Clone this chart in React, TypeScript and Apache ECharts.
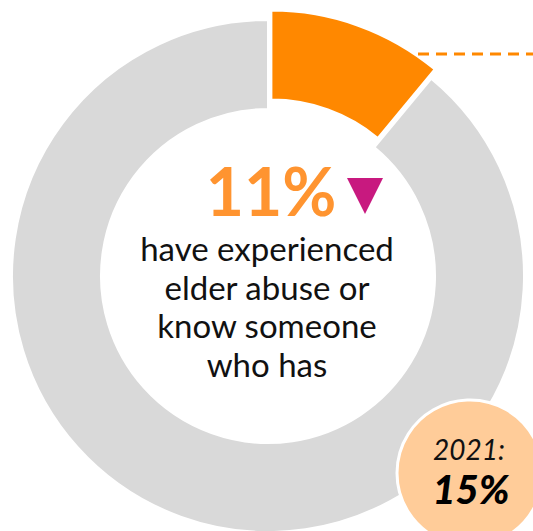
import React, { useEffect, useRef } from "react";
import * as echarts from "echarts";

const categories = ["Experienced elder abuse or know someone", "Other"];
const values = [11, 89];
const headline = "11%";
const captionLines = ["have experienced", "elder abuse or", "know someone", "who has"];
const priorYear = "2021:";
const priorValue = "15%";

export default function App() {
  const ref = useRef<HTMLDivElement>(null);
  useEffect(() => {
    document.body.style.margin = "0";
    const chart = echarts.init(ref.current!, null, { renderer: "svg" });
    const cx = 268;
    const cy = 276;
    chart.setOption({
      animation: false,
      series: [
        {
          type: "pie",
          center: [cx, cy],
          radius: [167, 256],
          startAngle: 90,
          clockwise: true,
          selectedMode: "single",
          selectedOffset: 10,
          label: { show: false },
          labelLine: { show: false },
          emphasis: { disabled: true },
          silent: true,
          z: 1,
          itemStyle: { borderColor: "#ffffff", borderWidth: 2 },
          data: categories.map((name, i) => ({
            name,
            value: values[i],
            selected: i === 0,
            itemStyle: { color: i === 0 ? "#FF8800" : "#D9D9D9" },
          })),
        },
      ],
      graphic: [
        {
          type: "line",
          z: 10,
          shape: { x1: 418, y1: 54, x2: 533, y2: 54 },
          style: { stroke: "#FF8800", lineWidth: 3, lineDash: [11, 7] },
        },
        {
          type: "text",
          z: 10,
          style: {
            text: headline,
            x: 271,
            y: 190,
            align: "center",
            verticalAlign: "middle",
            font: 'bold 66px "Lato"',
            fill: "#FF9430",
            letterSpacing: 9,
          },
        },
        {
          type: "polygon",
          z: 10,
          shape: { points: [[347, 178], [383, 178], [365, 214]] },
          style: { fill: "#C8197F" },
        },
        ...captionLines.map((t, i) => ({
          type: "text",
          z: 10,
          style: {
            text: t,
            x: 267,
            y: 248 + i * 38.5,
            align: "center",
            verticalAlign: "middle",
            font: '400 33px "Lato"',
            fill: "#111111",
            letterSpacing: 1.3,
          },
        })),
        {
          type: "circle",
          z: 20,
          shape: { cx: 470, cy: 473, r: 73 },
          style: { fill: "#FFCC99", stroke: "#ffffff", lineWidth: 3 },
        },
        {
          type: "text",
          z: 21,
          style: {
            text: priorYear,
            x: 469,
            y: 449,
            align: "center",
            verticalAlign: "middle",
            font: 'italic 400 28px "Lato"',
            fill: "#111111",
            letterSpacing: 1,
          },
        },
        {
          type: "text",
          z: 21,
          style: {
            text: priorValue,
            x: 471,
            y: 489,
            align: "center",
            verticalAlign: "middle",
            font: 'italic 900 40px "Lato"',
            fill: "#000000",
            letterSpacing: 2,
          },
        },
      ],
    });
    return () => chart.dispose();
  }, []);
  return <div ref={ref} style={{ width: 533, height: 531 }} />;
}
